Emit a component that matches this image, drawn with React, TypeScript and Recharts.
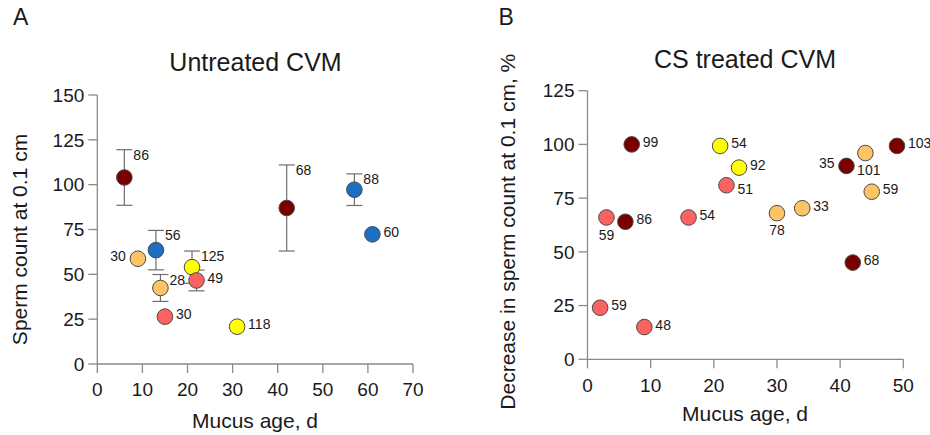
import React from 'react';
import { ScatterChart, Scatter, XAxis, YAxis, ErrorBar } from 'recharts';

const FONT = '"Liberation Sans", Arial, Helvetica, sans-serif';

// ---------- Panel A: Untreated CVM ----------
const untreatedAge = [6, 42, 9, 14, 21, 31, 13, 57, 61, 15, 22];
const untreatedCount = [104, 87, 58.7, 42.4, 54, 20.8, 63.5, 97.2, 72.3, 26.4, 46.6];
const untreatedSD = [15.5, 24, 0, 7.5, 9, 0, 11, 8.8, 0, 0, 5.8];
const untreatedN = ['86', '68', '30', '28', '125', '118', '56', '88', '60', '30', '49'];
const untreatedGroup = ['darkred', 'darkred', 'orange', 'orange', 'yellow', 'yellow', 'blue', 'blue', 'blue', 'red', 'red'];
const untreatedLabelSide = ['cap', 'cap', 'left', 'cap', 'cap', 'right', 'cap', 'cap', 'right', 'right', 'right'];
const untreatedXTicks = [0, 10, 20, 30, 40, 50, 60, 70];
const untreatedYTicks = [0, 25, 50, 75, 100, 125, 150];

// ---------- Panel B: CS treated CVM ----------
const treatedAge = [7, 6, 49, 41, 42, 21, 24, 44, 45, 30, 34, 22, 16, 3, 2, 9];
const treatedDecrease = [100, 64, 99.3, 90, 45, 99.3, 89.2, 96, 78, 68, 70.3, 81, 66, 66, 24, 15];
const treatedN = ['99', '86', '103', '35', '68', '54', '92', '101', '59', '78', '33', '51', '54', '59', '59', '48'];
const treatedGroup = ['darkred', 'darkred', 'darkred', 'darkred', 'darkred', 'yellow', 'yellow', 'orange', 'orange', 'orange', 'orange', 'red', 'red', 'red', 'red', 'red'];
const treatedLabelSide = ['right', 'right', 'right', 'left', 'right', 'right', 'right', 'belowRight', 'right', 'below', 'right', 'rightLow', 'right', 'below', 'right', 'right'];
const treatedXTicks = [0, 10, 20, 30, 40, 50];
const treatedYTicks = [0, 25, 50, 75, 100, 125];

const GROUP_ORDER = ['darkred', 'orange', 'yellow', 'blue', 'red'];
const GROUP_COLOR: Record<string, string> = {
  darkred: '#7a0000',
  orange: '#fdc466',
  yellow: '#ffff00',
  blue: '#1c6fc3',
  red: '#fb6262',
};

// label placements (relative to the mark), style only
const LABEL_STYLE: Record<string, { anchor: 'start' | 'end' | 'middle'; dx: number; dy: number }> = {
  right: { anchor: 'start', dx: 11, dy: -2.5 },
  rightLow: { anchor: 'start', dx: 11, dy: 3.3 },
  left: { anchor: 'end', dx: -12, dy: -2.7 },
  below: { anchor: 'middle', dx: 0, dy: 17.3 },
  belowRight: { anchor: 'start', dx: -8.3, dy: 17.3 },
  cap: { anchor: 'start', dx: 9, dy: 5 },
};

type Row = { x: number; y: number; err?: number; n: string; group: string; side: string };

function buildRows(xs: number[], ys: number[], ns: string[], groups: string[], sides: string[], errs?: number[]): Row[] {
  return xs.map((x, i) => ({
    x,
    y: ys[i],
    err: errs && errs[i] ? errs[i] : undefined,
    n: ns[i],
    group: groups[i],
    side: sides[i],
  }));
}

const untreatedRows = buildRows(untreatedAge, untreatedCount, untreatedN, untreatedGroup, untreatedLabelSide, untreatedSD);
const treatedRows = buildRows(treatedAge, treatedDecrease, treatedN, treatedGroup, treatedLabelSide);

function makeShape(pxPerUnit: number) {
  return (props: any) => {
    const { cx, cy, payload } = props;
    if (cx == null || cy == null || !payload) return <g />;
    const st = LABEL_STYLE[payload.side] || LABEL_STYLE.right;
    let mid = cy + st.dy;
    if (payload.side === 'cap') {
      const errPx = (payload.err || 0) * pxPerUnit;
      mid = cy - errPx + st.dy;
    }
    return (
      <g>
        <circle cx={cx} cy={cy} r={7.8} fill={GROUP_COLOR[payload.group]} stroke="#4a4a4a" strokeWidth={1} />
        <text
          x={cx + st.dx}
          y={mid + 5}
          textAnchor={st.anchor}
          fontSize={14}
          fontFamily={FONT}
          fill="#1a1a1a"
        >
          {payload.n}
        </text>
      </g>
    );
  };
}

const axisLine = { stroke: '#8a8a8a', strokeWidth: 1.3 };
const tickStyle = { fill: '#1a1a1a', fontSize: 19, fontFamily: FONT };

type PanelProps = {
  rows: Row[];
  width: number;
  height: number;
  margin: { top: number; right: number; bottom: number; left: number };
  xTicks: number[];
  yTicks: number[];
  plotH: number;
  withErr: boolean;
};

function Panel({ rows, width, height, margin, xTicks, yTicks, plotH, withErr }: PanelProps) {
  const yMax = yTicks[yTicks.length - 1];
  const shape = makeShape(plotH / yMax);
  return (
    <ScatterChart width={width} height={height} margin={margin}>
      <XAxis
        type="number"
        dataKey="x"
        domain={[xTicks[0], xTicks[xTicks.length - 1]]}
        ticks={xTicks}
        interval={0}
        height={30}
        tickSize={9}
        tickMargin={10}
        axisLine={axisLine}
        tickLine={axisLine}
        tick={tickStyle}
        allowDecimals={false}
      />
      <YAxis
        type="number"
        dataKey="y"
        domain={[yTicks[0], yMax]}
        ticks={yTicks}
        interval={0}
        width={60}
        tickSize={9}
        tickMargin={4}
        axisLine={axisLine}
        tickLine={axisLine}
        tick={tickStyle}
      />
      {GROUP_ORDER.map((g) => {
        const data = rows.filter((r) => r.group === g);
        if (!data.length) return null;
        return (
          <Scatter key={g} data={data} isAnimationActive={false} shape={shape} fill={GROUP_COLOR[g]}>
            {withErr ? (
              <ErrorBar dataKey="err" direction="y" width={8} stroke="#6e6e6e" strokeWidth={1.2} />
            ) : null}
          </Scatter>
        );
      })}
    </ScatterChart>
  );
}

export default function App() {
  return (
    <div style={{ position: 'absolute', left: 0, top: 0, width: 930, height: 435, background: '#fff' }}>
      <div style={{ position: 'absolute', left: 0, top: 0 }}>
        <Panel
          rows={untreatedRows}
          width={460}
          height={435}
          margin={{ top: 95, right: 47, bottom: 41, left: 37.3 }}
          xTicks={untreatedXTicks}
          yTicks={untreatedYTicks}
          plotH={269}
          withErr={true}
        />
      </div>
      <div style={{ position: 'absolute', left: 460, top: 0 }}>
        <Panel
          rows={treatedRows}
          width={470}
          height={435}
          margin={{ top: 90.7, right: 26.7, bottom: 45.7, left: 67.5 }}
          xTicks={treatedXTicks}
          yTicks={treatedYTicks}
          plotH={268.6}
          withErr={false}
        />
      </div>
      <svg
        width={930}
        height={435}
        style={{ position: 'absolute', left: 0, top: 0, pointerEvents: 'none' }}
        fontFamily={FONT}
        fill="#1a1a1a"
      >
        <text x={13} y={25} fontSize={23}>A</text>
        <text x={498.5} y={25} fontSize={23}>B</text>
        <text x={255.5} y={70.5} fontSize={25} textAnchor="middle">Untreated CVM</text>
        <text x={745} y={67.5} fontSize={25} textAnchor="middle">CS treated CVM</text>
        <text x={255} y={427.5} fontSize={21} textAnchor="middle">Mucus age, d</text>
        <text x={745} y={421} fontSize={21} textAnchor="middle">Mucus age, d</text>
        <text x={27} y={239.5} fontSize={21} textAnchor="middle" transform="rotate(-90 27 239.5)">
          Sperm count at 0.1 cm
        </text>
        <text x={515} y={231.7} fontSize={21} textAnchor="middle" transform="rotate(-90 515 231.7)">
          Decrease in sperm count at 0.1 cm, %
        </text>
      </svg>
    </div>
  );
}
